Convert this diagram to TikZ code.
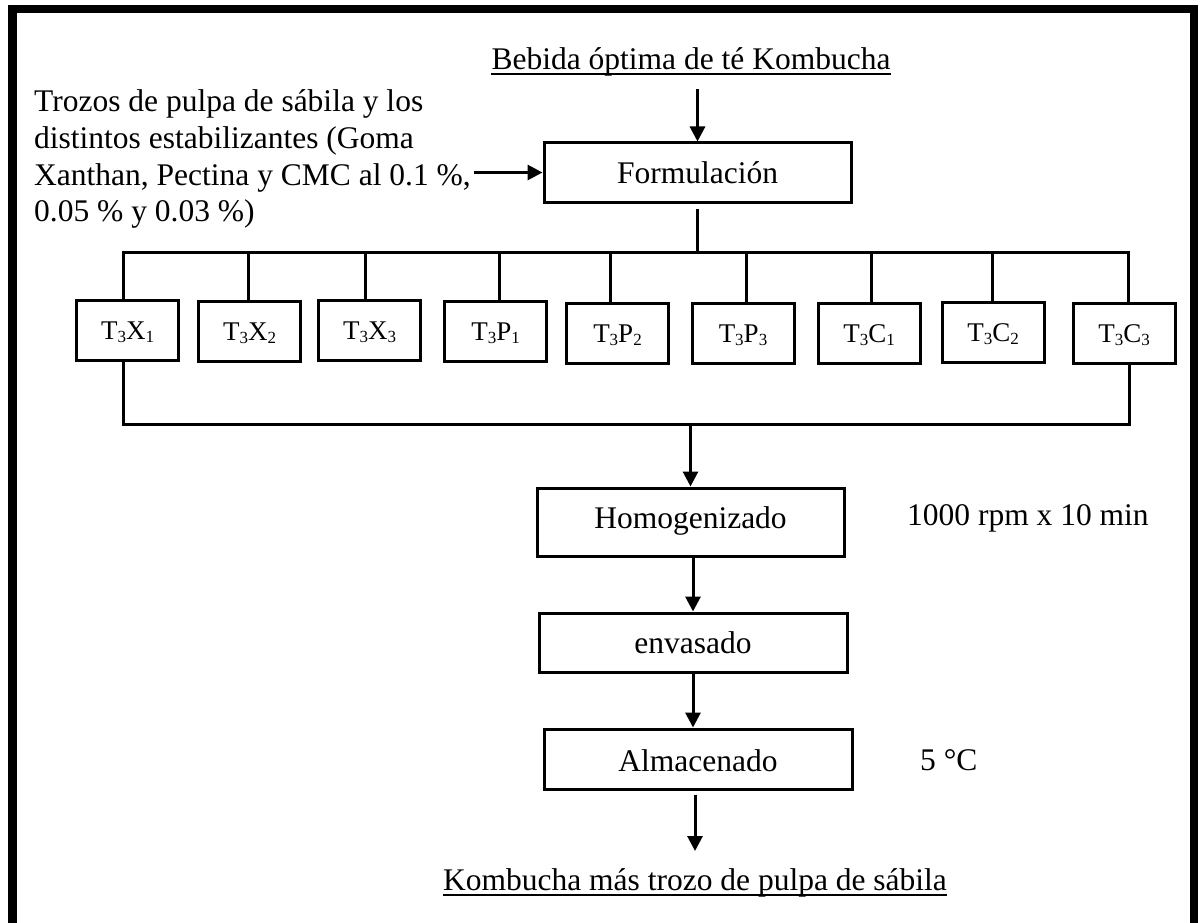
\documentclass[tikz,border=0pt]{standalone}
\usepackage{fontspec}
\setmainfont{Liberation Serif}
\usetikzlibrary{arrows.meta}
\newcommand{\mysub}[1]{\raisebox{-3pt}{\fontsize{17}{17}\selectfont #1}}
\begin{document}
\begin{tikzpicture}[x=1pt,y=-1pt,
  txt/.style={font=\fontsize{31.5}{36.7}\selectfont, inner sep=0pt},
  mainbox/.style={draw, line width=3pt, font=\fontsize{31.5}{36.7}\selectfont, minimum width=307pt, minimum height=59pt, inner sep=0pt, text height=21pt, text depth=0pt},
  tbox/.style={draw, line width=3pt, font=\fontsize{27}{30}\selectfont, minimum width=102pt, minimum height=60pt, inner sep=0pt, text height=18pt, text depth=0pt},
  conn/.style={line width=3pt},
  arr/.style={line width=3pt, -{Triangle[length=15pt,width=15pt]}},
  uline/.style={line width=2pt}
]
\useasboundingbox (0,0) rectangle (1200,923);
% frame (open at the bottom)
\draw[line width=8.5pt] (12.5,930) -- (12.5,9) -- (1194,9) -- (1194,930);

% title
\node[txt, anchor=base] (title) at (691,70) {Bebida óptima de té Kombucha};
\draw[uline] ([yshift=-4.5pt]title.base west) -- ([yshift=-4.5pt]title.base east);

% left input text
\node[txt, anchor=base west] (l1) at (34,112) {Trozos de pulpa de sábila y los};
\node[txt, anchor=base west] (l2) at (34,148.7) {distintos estabilizantes (Goma};
\node[txt, anchor=base west] (l3) at (34,185.3) {Xanthan, Pectina y CMC al 0.1 \%,};
\node[txt, anchor=base west] (l4) at (34,222) {0.05 \% y 0.03 \%)};

% main process boxes
\node[mainbox] (form) at (697.5,172.5) {Formulación};
\node[mainbox, minimum height=68pt, text depth=9pt] (homo) at (690.5,522) {Homogenizado};
\node[mainbox, minimum width=308pt] (envas) at (693,642.5) {envasado};
\node[mainbox, minimum width=308pt, minimum height=60pt, text height=24pt] (alm) at (698,759) {Almacenado};

% treatment boxes
\node[tbox] (b1) at (127.6,330.4) {T\mysub{3}X\mysub{1}};
\node[tbox] (b2) at (249.7,331.7) {T\mysub{3}X\mysub{2}};
\node[tbox] (b3) at (369.7,330) {T\mysub{3}X\mysub{3}};
\node[tbox] (b4) at (495.6,331.7) {T\mysub{3}P\mysub{1}};
\node[tbox] (b5) at (617.5,333.5) {T\mysub{3}P\mysub{2}};
\node[tbox] (b6) at (743,333.5) {T\mysub{3}P\mysub{3}};
\node[tbox] (b7) at (869,333) {T\mysub{3}C\mysub{1}};
\node[tbox] (b8) at (993,332) {T\mysub{3}C\mysub{2}};
\node[tbox] (b9) at (1124,333) {T\mysub{3}C\mysub{3}};

% side notes
\node[txt, anchor=base west] (rpm) at (907,525) {1000 rpm x 10 min};
\node[txt, anchor=base west] (temp) at (920,770) {5 °C};

% output text
\node[txt, anchor=base] (out) at (695,890) {Kombucha más trozo de pulpa de sábila};
\draw[uline] ([yshift=-4.5pt]out.base west) -- ([yshift=-4.5pt]out.base east);

% connectors
\coordinate (a0) at (697.5,89);
\draw[arr] (a0) -- (form.north);
\draw[arr] ([xshift=3pt]l3.east |- form.west) -- (form.west);

\coordinate (d1) at (123.6,252);
\coordinate (d2) at (248.4,252);
\coordinate (d3) at (365.5,252);
\coordinate (d4) at (499.4,252);
\coordinate (d5) at (610.5,252);
\coordinate (d6) at (746.5,252);
\coordinate (d7) at (871,252);
\coordinate (d8) at (992,252);
\coordinate (d9) at (1128,252);
\draw[conn, shorten <=5pt] (form.south) -- (form.south |- d1);
\draw[conn] (d1 |- b1.north) -- (d1) -- (d9) -- (d9 |- b9.north);
\draw[conn] (d2) -- (d2 |- b2.north);
\draw[conn] (d3) -- (d3 |- b3.north);
\draw[conn] (d4) -- (d4 |- b4.north);
\draw[conn] (d5) -- (d5 |- b5.north);
\draw[conn] (d6) -- (d6 |- b6.north);
\draw[conn] (d7) -- (d7 |- b7.north);
\draw[conn] (d8) -- (d8 |- b8.north);

\coordinate (e1) at (123.6,424);
\coordinate (e9) at (1129,424);
\draw[conn] (e1 |- b1.south) -- (e1) -- (e9) -- (e9 |- b9.south);
\coordinate (h0) at (690.5,424);
\draw[arr] (h0) -- (homo.north);
\draw[arr] (homo.south -| envas.north) -- (envas.north);
\draw[arr] (envas.south) -- (envas.south |- alm.north);
\coordinate (fin) at (695,851);
\draw[arr, shorten <=4pt] (alm.south -| fin) -- (fin);
\end{tikzpicture}
\end{document}
